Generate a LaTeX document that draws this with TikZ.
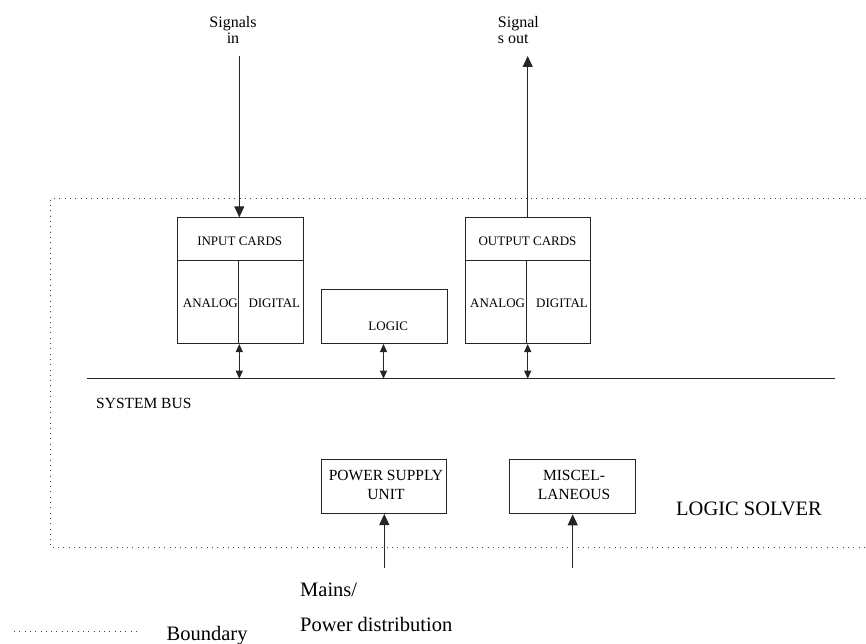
\documentclass[tikz,border=0pt]{standalone}
\usepackage{fontspec}
\setmainfont{Liberation Serif}
\usetikzlibrary{arrows.meta}
\begin{document}
\begin{tikzpicture}[x=1pt,y=-1pt,
  line/.style={draw=black!85, line width=1pt},
  box/.style={line, rectangle, inner sep=0pt, anchor=north west},
  bnd/.style={draw=black!75, line width=1pt, dash pattern=on 1pt off 4.3pt},
  txt/.style={inner sep=0pt, font=\fontsize{13}{15}\selectfont},
  midtxt/.style={inner sep=0pt, font=\fontsize{15.5}{19}\selectfont, align=center},
  bigtxt/.style={inner sep=0pt, font=\fontsize{20.5}{35}\selectfont},
  sig/.style={line, -{Triangle[length=11pt,width=10pt]}},
  busarrow/.style={line, {Triangle[length=8pt,width=7pt]}-{Triangle[length=8pt,width=7pt]}}
]
\useasboundingbox (0,0) rectangle (866,644);

% logic solver boundary (open to the right)
\draw[bnd] (866,199) -- (50.7,199) -- (50.7,547.5) -- (866,547.5);

% system bus
\coordinate (busL) at (86.7,378.7);
\coordinate (busR) at (835.3,378.7);
\draw[line] (busL) -- (busR);
\node[txt, font=\fontsize{15.5}{17}\selectfont, anchor=base west] (bustxt) at (96,408.5) {SYSTEM BUS};

% input cards
\node[box, minimum width=126pt, minimum height=43pt] (inhead) at (176.7,217.3) {};
\node[box, minimum width=61pt, minimum height=82.7pt] (inana) at (176.7,260.3) {};
\node[box, minimum width=65pt, minimum height=82.7pt] (indig) at (237.7,260.3) {};
\node[txt] (intxt) at (239.7,241.7) {INPUT CARDS};
\node[txt, anchor=west] (inanatxt) at (182.7,303) {ANALOG};
\node[txt, anchor=west] (indigtxt) at (248.3,303) {DIGITAL};

% logic
\node[box, minimum width=126pt, minimum height=54pt] (logic) at (320.7,289) {};
\node[txt] (logictxt) at (388.3,325.8) {LOGIC};

% output cards
\node[box, minimum width=125.6pt, minimum height=43pt] (outhead) at (464.7,217.3) {};
\node[box, minimum width=61pt, minimum height=82.7pt] (outana) at (464.7,260.3) {};
\node[box, minimum width=64.6pt, minimum height=82.7pt] (outdig) at (525.7,260.3) {};
\node[txt] (outtxt) at (527.5,241.7) {OUTPUT CARDS};
\node[txt, anchor=west] (outanatxt) at (470,303) {ANALOG};
\node[txt, anchor=west] (outdigtxt) at (536,303) {DIGITAL};

% bus taps
\coordinate (tapin) at (239.3,378.7);
\coordinate (taplogic) at (383.5,378.7);
\coordinate (tapout) at (527.7,378.7);
\draw[busarrow] (tapin |- inana.south) -- (tapin);
\draw[busarrow] (taplogic |- logic.south) -- (taplogic);
\draw[busarrow] (tapout |- outana.south) -- (tapout);

% signals in / out (base anchor sits on the last line)
\node[inner sep=0pt, font=\fontsize{16}{15.5}\selectfont, align=center, anchor=base] (sigin) at (233,43.5) {Signals\\in};
\node[inner sep=0pt, font=\fontsize{16}{15.5}\selectfont, align=left, anchor=base west] (sigout) at (497.7,43.3) {Signal\\s out};
\coordinate (sigintail) at (239.3,56);
\coordinate (sigouthead) at (527.7,56);
\draw[sig] (sigintail) -- (sigintail |- inhead.north);
\draw[sig] (sigouthead |- outhead.north) -- (sigouthead);

% power supply and miscellaneous
\node[box, minimum width=125.6pt, minimum height=53.7pt] (psu) at (320.7,459.3) {};
\node[midtxt, anchor=base] (psutxt) at (386,499.3) {POWER SUPPLY\\UNIT};
\node[box, minimum width=126pt, minimum height=54pt] (misc) at (509.3,459.3) {};
\node[midtxt, anchor=base] (misctxt) at (574,499.3) {MISCEL-\\LANEOUS};
\coordinate (mains) at (384.3,568);
\coordinate (miscin) at (572.7,568);
\draw[sig] (mains) -- (mains |- psu.south);
\draw[sig] (miscin) -- (miscin |- misc.south);

\node[bigtxt, anchor=base west] (solver) at (676,515) {LOGIC SOLVER};
\node[bigtxt, align=left, anchor=base west] (mainstxt) at (300,631.5) {Mains/\\Power distribution};

% legend
\coordinate (legL) at (14,631);
\coordinate (legR) at (136.7,631);
\draw[bnd] (legL) -- (legR);
\node[bigtxt, anchor=base west] (legtxt) at (166.5,640) {Boundary};
\end{tikzpicture}
\end{document}
